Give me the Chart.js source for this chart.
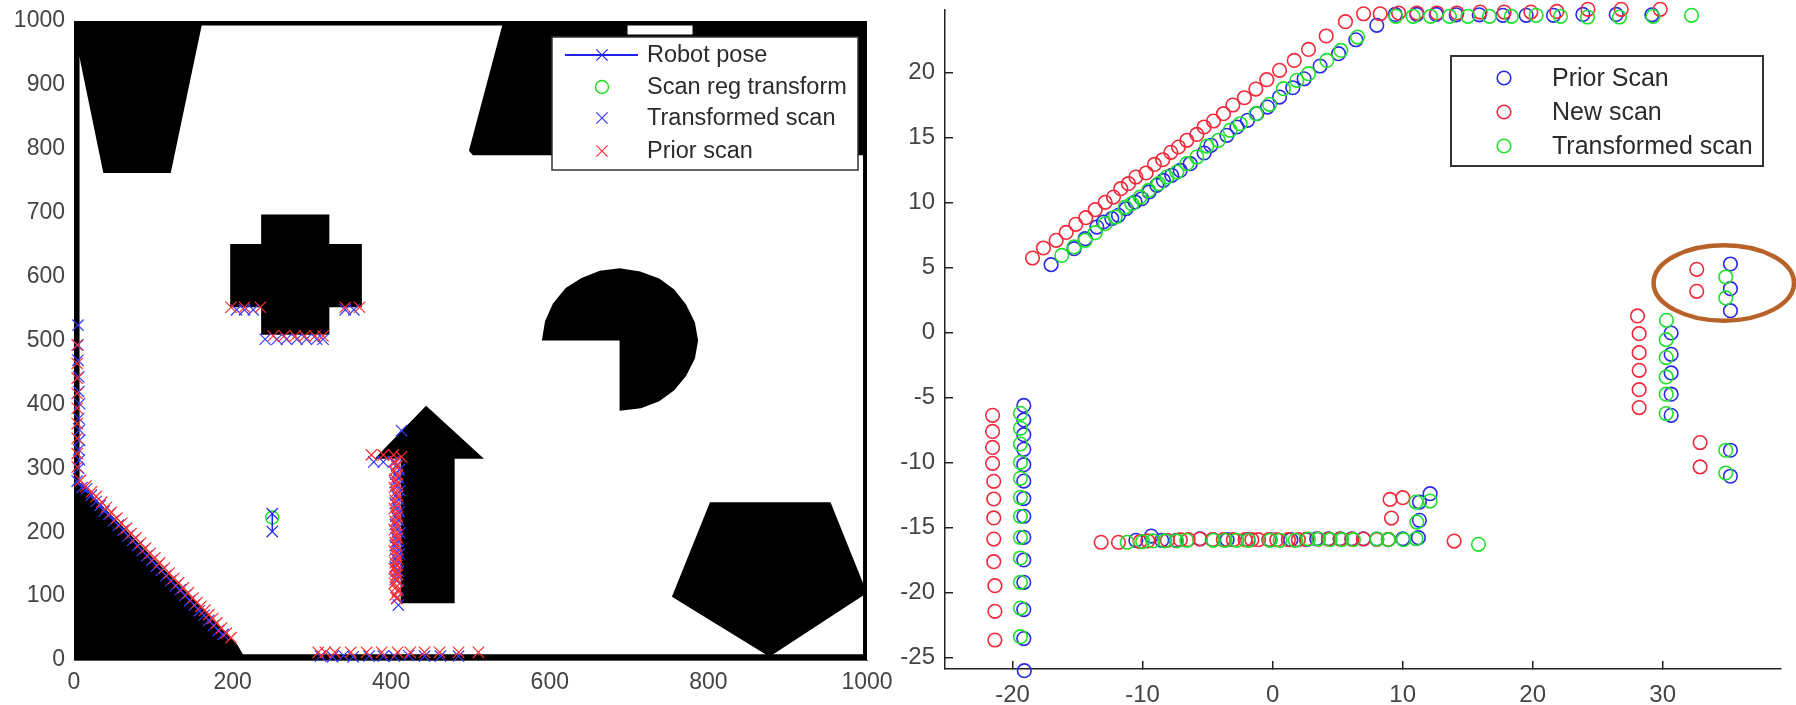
<!DOCTYPE html>
<html>
<head>
<meta charset="utf-8">
<script src="https://cdn.jsdelivr.net/npm/chart.js@4"></script>
<style>
  html, body { margin: 0; background: #fff; }
  canvas { position: absolute; top: 0; filter: blur(0.45px); }
  #mapChart { left: 0; }
  #scanChart { left: 898px; }
</style>
</head>
<body>
<canvas id="mapChart" width="898" height="705"></canvas>
<canvas id="scanChart" width="898" height="705"></canvas>
<script>
// left plot: axis ticks
const mapXTicks = [0, 200, 400, 600, 800, 1000];
const mapYTicks = [0, 100, 200, 300, 400, 500, 600, 700, 800, 900, 1000];

// left plot: black obstacles, [x, y] in map units
const wallTop = [[0, 1000], [1000, 1000], [1000, 993], [0, 993]];
const wallLeft = [[0, 0], [7, 0], [7, 1000], [0, 1000]];
const wallRight = [[995, 0], [1000, 0], [1000, 1000], [995, 1000]];
const wallBottom = [[0, 0], [1000, 0], [1000, 9], [0, 9]];
const topLeftBlock = [[0, 1000], [161, 1000], [161, 993], [122, 762], [37, 762], [7, 943], [0, 943]];
const topRightBlock = [[540, 1000], [540, 993], [498, 797], [503, 790], [1000, 790], [1000, 1000]];
const crossBlock = [[236, 697], [322, 697], [322, 651], [363, 651], [363, 552], [322, 552], [322, 509], [236, 509], [236, 552], [197, 552], [197, 651], [236, 651]];
const pacmanBlock = [[590, 500], [594, 530], [604, 558], [620, 582], [640, 598], [663, 609], [688, 613], [714, 608], [738, 597], [757, 580], [772, 556], [783, 528], [787, 500], [783, 472], [772, 445], [757, 422], [738, 405], [715, 394], [688, 390], [688, 500]];
const arrowBlock = [[444, 398], [517, 315], [480, 315], [480, 89], [412, 89], [412, 315], [379, 315]];
const pentagonBlock = [[802, 247], [954, 247], [1000, 105], [877, 5], [754, 99]];
const cornerBlock = [[0, 287], [206, 24], [213, 9], [213, 0], [0, 0]];
const obstacles = [wallTop, wallLeft, wallRight, wallBottom, topLeftBlock, topRightBlock, crossBlock, pacmanBlock, arrowBlock, pentagonBlock, cornerBlock];
const topNotch = [[698, 993], [780, 993], [780, 979], [698, 979]];

// left plot: series
const poseX = [250, 250];
const poseY = [229, 201];
const regX = [250];
const regY = [223];
const mapTransX = [5, 5, 5, 6, 6, 7, 6, 7, 7, 6, 7, 6,
  205, 215, 226, 342, 353, 241, 256, 268, 281, 293, 306, 314,
  4, 10, 16, 22, 28, 33, 38, 44, 50, 56, 62, 68, 74, 80, 86, 92, 98, 104, 110, 116, 122, 128, 134, 140, 146, 152, 158, 164, 170, 176, 182, 188,
  311, 326, 340, 352, 372, 390, 404, 422, 442, 462, 485,
  378, 390, 403, 413, 409,
  407, 410, 406, 409, 405, 408, 411, 406, 409, 405, 408, 410, 406, 409, 405, 408, 411, 406, 408, 405, 409, 410, 406, 408, 405, 409, 407, 405, 409, 407];
const mapTransY = [524, 493, 469, 443, 420, 401, 378, 360, 344, 329, 313, 300,
  548, 548, 548, 548, 548, 502, 502, 502, 502, 502, 502, 502,
  280, 270, 268, 258, 248, 242, 233, 228, 218, 211, 203, 194, 187, 179, 171, 163, 156, 147, 140, 132, 124, 116, 110, 101, 93, 86, 77, 70, 62, 54, 46, 40,
  6, 5, 7, 5, 6, 6, 6, 7, 6, 6, 6,
  310, 310, 310, 359, 86,
  305, 298, 291, 285, 278, 272, 265, 258, 252, 245, 238, 232, 225, 219, 212, 205, 199, 192, 186, 179, 172, 166, 159, 153, 146, 139, 133, 126, 110, 97];
const mapPriorX = [4, 4, 4, 4, 4, 4, 4, 4, 4,
  198, 215, 235, 342, 360, 251, 265, 279, 291, 304, 314,
  8, 15, 22, 28, 35, 41, 47, 54, 60, 66, 72, 78, 84, 90, 96, 102, 108, 114, 120, 126, 132, 138, 144, 150, 155, 160, 165, 170, 175, 180, 186, 192, 198,
  308, 317, 329, 349, 369, 388, 408, 424, 442, 461, 485, 510,
  375, 390, 403, 413,
  405, 407, 404, 408, 405, 407, 404, 406, 408, 405, 407, 404, 406, 408, 405, 407, 404, 406, 408, 405, 407, 404, 406, 408, 405, 407, 404, 406, 408, 405, 407, 404, 406, 408, 405, 407];
const mapPriorY = [493, 464, 441, 417, 394, 370, 347, 323, 302,
  552, 552, 552, 552, 552, 507, 507, 507, 507, 507, 507,
  281, 272, 263, 256, 247, 239, 231, 222, 214, 206, 198, 191, 183, 175, 167, 160, 152, 144, 136, 128, 121, 113, 105, 97, 90, 84, 78, 71, 65, 58, 50, 42, 35,
  12, 12, 12, 12, 12, 12, 12, 12, 12, 12, 12, 12,
  321, 321, 321, 318,
  310, 303, 296, 290, 283, 276, 270, 263, 257, 250, 243, 237, 230, 224, 217, 211, 204, 197, 191, 184, 178, 171, 165, 158, 152, 148, 143, 139, 134, 130, 125, 120, 114, 108, 102, 96];

// right plot: axis ticks
const scanXTicks = [-20, -10, 0, 10, 20, 30];
const scanYTicks = [-25, -20, -15, -10, -5, 0, 5, 10, 15, 20];

// right plot: series
const priorX = [-17.04, -15.27, -14.42, -13.52, -13.01, -12.37, -11.86, -11.27, -10.58, -10.06, -9.5, -8.91, -8.4, -7.76, -7.11, -6.34, -5.27, -4.75, -3.52, -2.75, -1.93, -1.22, -0.4, 0.53, 1.55, 2.42, 3.65, 5.07, 6.4, 8.01, 9.42,
  11.09, 12.58, 14.12, 15.89, 17.71, 19.5, 21.6, 23.86, 26.43, 29.17,
  35.21, 35.21, 35.21, 30.65, 30.65, 30.65, 30.65, 30.65, 35.21, 35.21,
  -19.14, -19.14, -19.14, -19.14, -19.14, -19.14, -19.14, -19.14, -19.14, -19.14, -19.14, -19.14, -19.14, -19.1,
  -10.52, -9.33, -8.53, -7.42, -5.58, -4.6, -3.5, -1.9, -0.2, 1.4, 2.6, 3.39, 4.29, 5.19, 6.09, 6.98, 8.01, 8.9, 10.01, 11.21, 11.29, 11.29, 12.11];
const priorY = [5.21, 6.44, 7.21, 8.1, 8.49, 8.75, 9.0, 9.51, 10.03, 10.28, 10.8, 11.31, 11.69, 12.08, 12.46, 12.98, 13.8, 14.39, 15.16, 15.8, 16.31, 16.82, 17.33, 18.1, 18.82, 19.51, 20.49, 21.44, 22.51, 23.62, 24.46,
  24.46, 24.46, 24.43, 24.43, 24.39, 24.39, 24.39, 24.46, 24.46, 24.43,
  5.26, 3.36, 1.67, -0.05, -1.69, -3.12, -4.76, -6.38, -9.07, -11.07,
  -5.62, -6.74, -7.87, -9.0, -10.18, -11.44, -12.79, -14.15, -15.77, -17.51, -19.23, -21.33, -23.56, -26.03,
  -16.0, -15.67, -16.0, -16.0, -15.88, -15.95, -15.95, -15.95, -15.95, -15.95, -15.95, -15.88, -15.88, -15.88, -15.88, -15.88, -15.9, -15.95, -15.88, -15.8, -14.46, -13.06, -12.41];

const newX = [-18.47, -17.63, -16.65, -15.88, -15.14, -14.37, -13.65, -12.88, -12.24, -11.68, -11.09, -10.52, -9.73, -9.09, -8.45, -7.83, -7.24, -6.6, -5.83, -5.27, -4.55, -3.78, -3.06, -2.17, -1.29, -0.45, 0.53, 1.66, 2.76, 4.12, 5.6, 6.99, 8.27,
  9.69, 11.09, 12.63, 14.17, 15.96, 17.81, 19.86, 21.86, 24.25, 26.81, 29.81,
  32.62, 32.62, 28.06, 28.19, 28.19, 28.19, 28.19, 28.19, 32.88, 32.88,
  -21.54, -21.54, -21.54, -21.54, -21.45, -21.45, -21.45, -21.45, -21.45, -21.36, -21.36, -21.36,
  -13.19, -11.86, -10.2, -9.6, -8.1, -7.1, -6.5, -5.6, -4.63, -3.79, -3.02, -2.12, -1.6, -1.09, -0.3, 0.32, 1.21, 1.98, 2.62, 3.52, 4.29, 5.19, 6.09, 6.98, 8.01, 8.9, 13.96,
  9.03, 10.01, 9.14];
const newY = [5.72, 6.49, 7.08, 7.69, 8.31, 8.82, 9.44, 10.0, 10.41, 11.05, 11.44, 11.95, 12.26, 12.92, 13.28, 13.85, 14.26, 14.77, 15.23, 15.8, 16.26, 16.82, 17.49, 18.05, 18.72, 19.44, 20.16, 20.92, 21.77, 22.8, 23.9, 24.51, 24.51,
  24.57, 24.57, 24.57, 24.57, 24.64, 24.64, 24.64, 24.69, 24.85, 24.85, 24.85,
  4.85, 3.16, 1.26, -0.1, -1.56, -2.92, -4.41, -5.79, -8.48, -10.35,
  -6.38, -7.62, -8.85, -10.08, -11.46, -12.82, -14.28, -15.9, -17.64, -19.49, -21.46, -23.67,
  -16.15, -16.15, -16.1, -16.05, -16.0, -15.95, -15.95, -15.9, -15.95, -15.95, -15.95, -15.95, -15.95, -15.95, -15.95, -15.95, -15.95, -15.95, -15.9, -15.9, -15.9, -15.9, -15.9, -15.9, -15.93, -15.93, -16.06,
  -12.85, -12.72, -14.29];

const transX = [-16.22, -15.27, -14.42, -13.65, -12.88, -12.11, -11.34, -10.83, -10.19, -9.55, -8.78, -8.14, -7.37, -6.6, -5.83, -5.06, -4.17, -3.27, -2.5, -1.27, -0.24, 0.83, 1.86, 2.76, 4.17, 5.25, 6.53,
  9.47, 10.8, 12.14, 13.6, 15.02, 16.67, 18.36, 20.27, 22.14, 24.22, 26.67, 29.25, 32.22,
  34.85, 34.85, 30.29, 30.27, 30.27, 30.27, 30.27, 30.27, 34.85, 34.85,
  -19.4, -19.4, -19.4, -19.4, -19.4, -19.4, -19.4, -19.4, -19.4, -19.4, -19.4, -19.4,
  -11.19, -10.0, -9.2, -8.3, -7.4, -6.61, -4.56, -3.66, -2.76, -1.86, -0.2, 0.57, 1.73, 2.75, 3.52, 4.42, 5.32, 6.21, 8.01, 8.9, 10.06, 11.03, 11.09, 11.03, 12.11, 15.83];
const transY = [5.92, 6.57, 7.08, 7.67, 8.36, 8.87, 9.64, 9.9, 10.41, 10.92, 11.44, 11.95, 12.33, 12.98, 13.49, 14.33, 14.77, 15.54, 16.05, 16.82, 17.54, 18.75, 19.39, 19.9, 20.92, 21.69, 22.72,
  24.31, 24.31, 24.31, 24.31, 24.31, 24.31, 24.31, 24.39, 24.31, 24.26, 24.26, 24.31, 24.39,
  4.26, 2.65, 0.93, -0.56, -1.94, -3.43, -4.76, -6.25, -9.07, -10.82,
  -6.23, -7.38, -8.59, -10.0, -11.23, -12.69, -14.15, -15.77, -17.36, -19.23, -21.21, -23.41,
  -16.15, -16.1, -16.05, -16.05, -16.05, -16.0, -16.0, -16.0, -16.0, -16.0, -16.0, -16.0, -16.0, -15.9, -15.9, -15.95, -15.95, -15.95, -15.9, -15.95, -15.95, -15.88, -14.6, -13.06, -12.98, -16.31];

// brown ring around the corner on the right plot
const ringCentre = [34.7, 3.8];
const ringRadius = [5.4, 2.9];

function points(xs, ys) {
  return xs.map((x, i) => ({ x: x, y: ys[i] }));
}

function fixedTicks(values) {
  return function (scale) {
    scale.ticks = values.map((v) => ({ value: v }));
  };
}

function plainLabel(value) {
  return String(value);
}

// pin the axis box size, the axes must not push the plot area around
function fixedWidth(size) {
  return function (scale) {
    scale.width = size;
    scale.paddingTop = 0;
    scale.paddingBottom = 0;
  };
}

function fixedHeight(size) {
  return function (scale) {
    scale.height = size;
    scale.paddingLeft = 0;
    scale.paddingRight = 0;
  };
}

function tracePolygon(ctx, chart, poly) {
  ctx.beginPath();
  poly.forEach(([x, y], i) => {
    const px = chart.scales.x.getPixelForValue(x);
    const py = chart.scales.y.getPixelForValue(y);
    if (i === 0) ctx.moveTo(px, py);
    else ctx.lineTo(px, py);
  });
  ctx.closePath();
}

const obstaclePlugin = {
  id: "obstacles",
  beforeDatasetsDraw(chart) {
    const ctx = chart.ctx;
    ctx.save();
    ctx.fillStyle = "#000";
    obstacles.forEach((poly) => {
      tracePolygon(ctx, chart, poly);
      ctx.fill();
    });
    ctx.fillStyle = "#fff";
    tracePolygon(ctx, chart, topNotch);
    ctx.fill();
    ctx.restore();
  },
};

const ringPlugin = {
  id: "ring",
  afterDatasetsDraw(chart) {
    const ctx = chart.ctx;
    const { x, y } = chart.scales;
    ctx.save();
    ctx.strokeStyle = "#b8622a";
    ctx.lineWidth = 4.5;
    ctx.beginPath();
    ctx.ellipse(
      x.getPixelForValue(ringCentre[0]),
      y.getPixelForValue(ringCentre[1]),
      x.getPixelForValue(ringCentre[0] + ringRadius[0]) - x.getPixelForValue(ringCentre[0]),
      y.getPixelForValue(ringCentre[1]) - y.getPixelForValue(ringCentre[1] + ringRadius[1]),
      0, 0, Math.PI * 2
    );
    ctx.stroke();
    ctx.restore();
  },
};

// matlab style legend, sits on top of the axes
function boxLegend(id, box) {
  return {
    id: id,
    afterDraw(chart) {
      const ctx = chart.ctx;
      ctx.save();
      ctx.fillStyle = "#fff";
      ctx.strokeStyle = "#333";
      ctx.lineWidth = box.lineWidth;
      ctx.fillRect(box.left, box.top, box.right - box.left, box.bottom - box.top);
      ctx.strokeRect(box.left, box.top, box.right - box.left, box.bottom - box.top);
      ctx.font = box.fontSize + 'px "Liberation Sans"';
      ctx.textBaseline = "middle";
      chart.data.datasets.forEach((ds, i) => {
        const y = box.rows[i];
        if (ds.showLine) {
          ctx.strokeStyle = ds.borderColor;
          ctx.lineWidth = 2;
          ctx.beginPath();
          ctx.moveTo(box.lineFrom, y);
          ctx.lineTo(box.lineTo, y);
          ctx.stroke();
        }
        ctx.strokeStyle = ds.pointBorderColor;
        ctx.fillStyle = "transparent";
        ctx.lineWidth = ds.pointBorderWidth;
        Chart.helpers.drawPoint(ctx, {
          pointStyle: ds.pointStyle,
          radius: ds.pointRadius,
          borderWidth: ds.pointBorderWidth,
          rotation: 0,
        }, box.markX, y);
        ctx.fillStyle = "#2b2b2b";
        ctx.fillText(ds.label, box.textX, y + 1);
      });
      ctx.restore();
    },
  };
}

function markSeries(label, data, color, style, radius, width, order) {
  return {
    label: label,
    data: data,
    showLine: false,
    borderColor: color,
    backgroundColor: "transparent",
    pointBorderColor: color,
    pointBackgroundColor: "transparent",
    pointStyle: style,
    pointRadius: radius,
    pointBorderWidth: width,
    order: order,
    clip: false,
  };
}

const robotPose = markSeries("Robot pose", points(poseX, poseY), "#2222ee", "crossRot", 8, 1.2, 0);
robotPose.showLine = true;
robotPose.borderWidth = 1.5;

new Chart(document.getElementById("mapChart"), {
  type: "scatter",
  data: {
    datasets: [
      robotPose,
      markSeries("Scan reg transform", points(regX, regY), "#18e018", "circle", 6.5, 1.4, 3),
      markSeries("Transformed scan", points(mapTransX, mapTransY), "#3a3aff", "crossRot", 8, 1.2, 2),
      markSeries("Prior scan", points(mapPriorX, mapPriorY), "#ff2e2e", "crossRot", 8, 1.2, 1),
    ],
  },
  options: {
    responsive: false,
    animation: false,
    layout: { padding: { top: 21, right: 31 } },
    plugins: { legend: { display: false }, tooltip: { enabled: false } },
    scales: {
      x: {
        type: "linear",
        min: 0,
        max: 1000,
        afterBuildTicks: fixedTicks(mapXTicks),
        afterFit: fixedHeight(45),
        grid: { drawOnChartArea: false, drawTicks: false },
        border: { display: true, color: "#555", width: 1 },
        ticks: { callback: plainLabel, color: "#444", font: { family: "Liberation Sans", size: 23 }, padding: 9, maxRotation: 0, autoSkip: false },
      },
      y: {
        type: "linear",
        min: 0,
        max: 1000,
        afterBuildTicks: fixedTicks(mapYTicks),
        afterFit: fixedWidth(74),
        grid: { drawOnChartArea: false, drawTicks: false },
        border: { display: true, color: "#555", width: 1 },
        ticks: { callback: plainLabel, color: "#444", font: { family: "Liberation Sans", size: 23 }, padding: 9, autoSkip: false },
      },
    },
  },
  plugins: [obstaclePlugin, boxLegend("mapLegend", {
    left: 552, top: 37, right: 858, bottom: 170, lineWidth: 1.5,
    fontSize: 23.5, textX: 647, markX: 602, lineFrom: 565, lineTo: 638,
    rows: [55, 87, 118, 151],
  })],
});

new Chart(document.getElementById("scanChart"), {
  type: "scatter",
  data: {
    datasets: [
      markSeries("Prior Scan", points(priorX, priorY), "#2a2ae6", "circle", 6.8, 1.6, 3),
      markSeries("New scan", points(newX, newY), "#f02a3a", "circle", 6.8, 1.6, 2),
      markSeries("Transformed scan", points(transX, transY), "#22e02e", "circle", 6.8, 1.6, 1),
    ],
  },
  options: {
    responsive: false,
    animation: false,
    layout: { padding: { top: 10, right: 15 } },
    plugins: { legend: { display: false }, tooltip: { enabled: false } },
    scales: {
      x: {
        type: "linear",
        min: -25.2,
        max: 39.1,
        afterBuildTicks: fixedTicks(scanXTicks),
        afterFit: fixedHeight(36),
        grid: { drawOnChartArea: false, drawTicks: true, tickLength: -8, color: "#222", lineWidth: 1.5 },
        border: { display: true, color: "#222", width: 1.5 },
        ticks: { callback: plainLabel, color: "#444", font: { family: "Liberation Sans", size: 24 }, padding: 20, maxRotation: 0, autoSkip: false },
      },
      y: {
        type: "linear",
        min: -25.9,
        max: 24.8,
        afterBuildTicks: fixedTicks(scanYTicks),
        afterFit: fixedWidth(47),
        grid: { drawOnChartArea: false, drawTicks: true, tickLength: -8, color: "#222", lineWidth: 1.5 },
        border: { display: true, color: "#222", width: 1.5 },
        ticks: { callback: plainLabel, color: "#444", font: { family: "Liberation Sans", size: 24 }, padding: 18, autoSkip: false },
      },
    },
  },
  plugins: [ringPlugin, boxLegend("scanLegend", {
    left: 553, top: 56, right: 865, bottom: 166, lineWidth: 2,
    fontSize: 25, textX: 654, markX: 606, lineFrom: 0, lineTo: 0,
    rows: [78, 112, 146],
  })],
});
</script>
</body>
</html>
